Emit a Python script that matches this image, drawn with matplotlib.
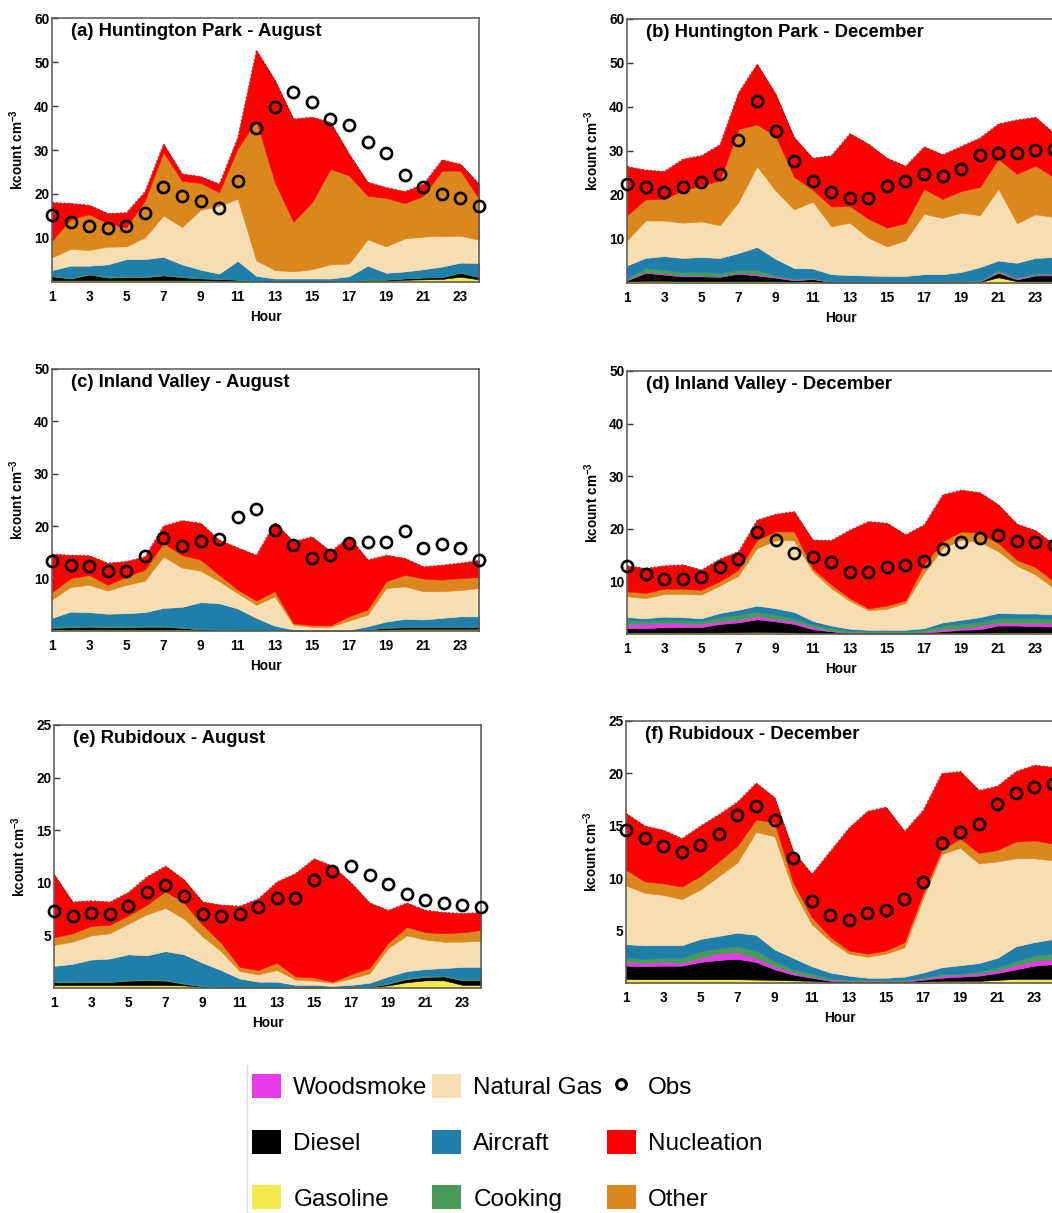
import numpy as np
import matplotlib
matplotlib.use('Agg')
import matplotlib.pyplot as plt
from matplotlib.patches import Patch
from matplotlib.lines import Line2D

plt.rcParams['font.family'] = ['Liberation Sans', 'DejaVu Sans']
plt.rcParams['mathtext.fontset'] = 'custom'
plt.rcParams['mathtext.bf'] = 'Liberation Sans:bold'
plt.rcParams['mathtext.rm'] = 'Liberation Sans'

hours = list(range(1, 25))

# upper edge of each stacked band (kcount cm-3)
# (a) Huntington Park - August
a_gas = [0.4, 0.4, 0.4, 0.4, 0.4, 0.4, 0.4, 0.4, 0.4, 0.3, 0.3, 0.2, 0.1, 0.1, 0.1, 0.1, 0.2, 0.3, 0.3, 0.5, 0.6, 0.7, 1.2, 0.6]
a_diesel = [1.3, 0.8, 1.7, 1.0, 1.1, 1.1, 1.5, 1.1, 0.8, 0.7, 0.5, 0.2, 0.15, 0.15, 0.15, 0.15, 0.2, 0.5, 0.5, 0.8, 1.0, 1.1, 2.1, 1.1]
a_wood = a_diesel
a_cook = [1.5, 1.0, 1.9, 1.3, 1.4, 1.4, 1.7, 1.3, 0.9, 0.8, 0.6, 0.3, 0.2, 0.2, 0.2, 0.2, 0.3, 0.6, 0.6, 0.9, 1.1, 1.2, 2.3, 1.2]
a_air = [2.7, 3.7, 3.7, 4.0, 5.2, 5.2, 5.7, 4.0, 2.8, 1.9, 4.8, 1.4, 0.8, 0.8, 0.8, 0.8, 1.3, 3.7, 2.1, 2.4, 2.9, 3.5, 4.4, 4.3]
a_ng = [5.6, 7.5, 7.3, 8.0, 8.1, 10.1, 15.1, 12.5, 16.4, 17.3, 18.9, 4.9, 2.7, 2.4, 2.9, 4.0, 4.2, 9.7, 8.1, 9.9, 10.3, 10.5, 10.5, 9.6]
a_other = [9.4, 14.3, 15.4, 13.3, 12.4, 18.5, 29.5, 23.0, 22.5, 20.4, 30.3, 36.7, 22.7, 13.7, 18.1, 25.7, 24.2, 19.6, 19.1, 17.9, 19.6, 25.3, 25.3, 18.9]
a_nuc = [18.1, 17.9, 17.5, 15.6, 15.8, 20.6, 31.4, 24.6, 24.0, 22.3, 32.9, 52.7, 45.9, 37.1, 37.5, 36.3, 29.1, 22.7, 21.5, 20.6, 22.3, 27.8, 26.8, 22.3]
a_obs = [15.2, 13.7, 12.8, 12.2, 12.8, 15.7, 21.6, 19.5, 18.3, 16.9, 22.9, 35.0, 39.8, 43.2, 40.8, 37.1, 35.6, 31.8, 29.3, 24.3, 21.6, 20.0, 19.2, 17.3]

# (b) Huntington Park - December
b_gas = [0.4, 0.5, 0.5, 0.4, 0.4, 0.4, 0.4, 0.4, 0.4, 0.3, 0.4, 0.1, 0.1, 0.1, 0.1, 0.1, 0.1, 0.1, 0.1, 0.2, 1.3, 0.4, 0.4, 0.4]
b_diesel = [0.6, 2.3, 1.9, 1.5, 1.5, 1.4, 2.1, 1.7, 1.2, 0.6, 0.9, 0.2, 0.2, 0.2, 0.2, 0.2, 0.2, 0.2, 0.2, 0.3, 2.3, 0.8, 1.7, 1.7]
b_wood = [0.8, 2.5, 2.1, 1.7, 1.7, 1.5, 2.3, 2.0, 1.4, 0.8, 1.0, 0.3, 0.3, 0.3, 0.3, 0.3, 0.3, 0.3, 0.3, 0.4, 2.5, 1.0, 1.9, 1.9]
b_cook = [1.1, 3.4, 3.0, 2.5, 2.5, 2.3, 3.0, 3.0, 1.7, 1.0, 1.1, 0.4, 0.4, 0.4, 0.4, 0.4, 0.4, 0.4, 0.5, 0.6, 3.0, 1.2, 2.2, 2.2]
b_air = [4.0, 5.7, 6.1, 5.7, 5.9, 5.7, 6.8, 8.2, 5.5, 3.4, 3.3, 2.0, 1.8, 1.7, 1.6, 1.6, 2.0, 2.0, 2.5, 3.6, 5.1, 4.6, 5.7, 5.9]
b_ng = [9.7, 14.2, 14.2, 13.7, 14.0, 13.1, 18.4, 26.5, 21.0, 16.7, 18.5, 12.9, 13.7, 10.3, 8.3, 9.7, 15.7, 14.8, 16.0, 15.4, 21.4, 13.6, 15.6, 15.0]
b_other = [15.4, 19.0, 19.1, 21.0, 22.2, 23.3, 35.0, 36.0, 33.5, 24.1, 21.2, 17.4, 17.5, 14.6, 12.6, 13.6, 21.4, 19.1, 20.9, 21.8, 28.2, 24.8, 26.7, 24.0]
b_nuc = [26.5, 25.7, 25.4, 28.2, 29.0, 31.5, 43.3, 49.8, 43.0, 33.1, 28.4, 29.0, 34.0, 31.6, 28.4, 26.6, 31.0, 29.2, 31.1, 33.0, 36.2, 37.1, 37.7, 34.0]
b_obs = [22.5, 21.9, 20.7, 21.8, 22.9, 24.8, 32.4, 41.3, 34.5, 27.8, 23.1, 20.6, 19.4, 19.4, 22.1, 23.1, 24.7, 24.4, 25.9, 29.2, 29.5, 29.6, 30.3, 30.5]

# (c) Inland Valley - August
c_gas = [0.3, 0.3, 0.3, 0.3, 0.3, 0.3, 0.3, 0.3, 0.2, 0.2, 0.2, 0.2, 0.2, 0.1, 0.1, 0.1, 0.1, 0.2, 0.3, 0.4, 0.4, 0.4, 0.4, 0.4]
c_diesel = [0.6, 0.7, 0.8, 0.7, 0.7, 0.8, 0.8, 0.6, 0.3, 0.2, 0.2, 0.2, 0.2, 0.1, 0.1, 0.1, 0.1, 0.3, 0.6, 0.7, 0.7, 0.7, 0.7, 0.7]
c_wood = c_diesel
c_cook = [0.8, 0.9, 1.0, 0.9, 0.9, 1.0, 1.0, 0.7, 0.4, 0.3, 0.3, 0.2, 0.2, 0.15, 0.15, 0.15, 0.15, 0.35, 0.7, 0.8, 0.8, 0.8, 0.8, 0.8]
c_air = [2.5, 3.7, 3.6, 3.3, 3.4, 3.6, 4.4, 4.6, 5.5, 5.3, 4.3, 2.5, 1.0, 0.3, 0.2, 0.2, 0.2, 0.9, 1.8, 2.3, 2.2, 2.5, 2.8, 2.8]
c_ng = [6.0, 8.4, 8.8, 7.7, 8.8, 9.6, 14.2, 12.1, 11.5, 9.5, 7.2, 5.0, 6.6, 1.2, 0.8, 0.8, 2.0, 3.1, 8.2, 8.5, 7.6, 7.6, 7.8, 8.2]
c_other = [7.4, 10.1, 10.7, 8.8, 10.4, 11.7, 16.8, 14.5, 13.6, 10.7, 7.9, 5.8, 7.6, 1.5, 1.1, 1.1, 2.8, 4.1, 9.5, 10.7, 10.0, 9.8, 10.1, 10.3]
c_nuc = [14.7, 14.5, 14.4, 13.0, 13.3, 14.2, 20.1, 21.1, 20.6, 17.4, 15.9, 14.5, 20.7, 17.1, 18.0, 15.2, 18.0, 13.6, 14.5, 13.9, 12.3, 12.6, 13.0, 13.5]
c_obs = [13.3, 12.6, 12.5, 11.4, 11.5, 14.4, 17.7, 16.3, 17.1, 17.6, 21.7, 23.3, 19.3, 16.5, 14.0, 14.5, 16.8, 17.0, 17.0, 19.1, 15.8, 16.6, 15.8, 13.6]

# (d) Inland Valley - December
d_gas = [0.3, 0.3, 0.3, 0.3, 0.3, 0.3, 0.35, 0.4, 0.35, 0.3, 0.2, 0.15, 0.1, 0.1, 0.1, 0.1, 0.1, 0.15, 0.2, 0.25, 0.3, 0.3, 0.3, 0.3]
d_diesel = [1.1, 1.1, 1.3, 1.3, 1.3, 1.9, 2.2, 2.8, 2.4, 1.9, 0.9, 0.5, 0.2, 0.2, 0.2, 0.2, 0.3, 0.5, 0.8, 0.9, 1.6, 1.6, 1.5, 1.4]
d_wood = [1.9, 1.9, 2.1, 2.0, 1.9, 2.4, 2.7, 3.4, 2.8, 2.4, 1.3, 0.6, 0.3, 0.3, 0.3, 0.3, 0.4, 0.9, 1.1, 1.5, 2.1, 2.1, 2.1, 2.0]
d_cook = [2.6, 2.5, 2.6, 2.6, 2.4, 3.2, 3.7, 4.2, 3.7, 3.0, 1.8, 1.1, 0.6, 0.5, 0.5, 0.5, 0.8, 1.6, 1.9, 2.3, 3.0, 3.0, 3.0, 2.9]
d_air = [3.2, 3.0, 3.3, 3.2, 3.0, 4.0, 4.6, 5.4, 4.9, 4.2, 2.5, 1.6, 1.0, 0.8, 0.8, 0.8, 1.1, 2.2, 2.7, 3.2, 4.0, 3.9, 3.9, 3.7]
d_ng = [7.2, 6.8, 7.6, 7.6, 7.5, 9.2, 11.1, 16.3, 17.8, 17.8, 11.9, 8.7, 6.3, 4.5, 4.8, 5.9, 11.6, 16.3, 17.9, 17.5, 15.7, 13.0, 11.3, 8.7]
d_other = [8.1, 7.8, 8.6, 8.6, 8.4, 10.0, 12.2, 17.9, 19.5, 19.5, 12.5, 9.4, 6.8, 4.9, 5.4, 6.4, 13.2, 17.6, 19.5, 19.2, 17.3, 14.1, 12.7, 10.0]
d_nuc = [13.0, 12.5, 13.0, 13.2, 12.2, 14.3, 15.7, 21.7, 22.8, 23.3, 17.9, 17.8, 19.8, 21.4, 21.1, 18.9, 20.8, 26.5, 27.4, 26.9, 24.6, 20.9, 19.7, 17.0]
d_obs = [13.0, 11.5, 10.4, 10.4, 10.9, 12.8, 14.2, 19.4, 17.8, 15.4, 14.7, 13.7, 11.8, 11.8, 12.7, 13.1, 13.9, 16.1, 17.5, 18.2, 18.8, 17.6, 17.5, 17.0]

# (e) Rubidoux - August
e_gas = [0.28, 0.28, 0.28, 0.28, 0.28, 0.28, 0.28, 0.25, 0.1, 0.05, 0.05, 0.05, 0.05, 0.05, 0.05, 0.05, 0.05, 0.1, 0.25, 0.55, 0.73, 0.73, 0.3, 0.3]
e_diesel = [0.54, 0.54, 0.57, 0.57, 0.7, 0.73, 0.7, 0.4, 0.15, 0.08, 0.08, 0.08, 0.08, 0.08, 0.08, 0.08, 0.08, 0.1, 0.4, 0.85, 1.05, 1.1, 0.73, 0.73]
e_wood = e_diesel
e_cook = [0.64, 0.64, 0.67, 0.67, 0.8, 0.83, 0.8, 0.5, 0.2, 0.1, 0.1, 0.1, 0.1, 0.1, 0.1, 0.1, 0.1, 0.15, 0.5, 0.95, 1.15, 1.2, 0.83, 0.83]
e_air = [2.1, 2.3, 2.7, 2.8, 3.2, 3.1, 3.5, 3.2, 2.4, 1.7, 0.9, 0.6, 0.6, 0.3, 0.3, 0.2, 0.3, 0.5, 1.1, 1.6, 1.8, 1.9, 2.0, 2.0]
e_ng = [4.1, 4.4, 5.0, 5.2, 6.1, 7.0, 7.6, 6.6, 4.9, 3.5, 1.6, 1.3, 1.7, 0.8, 0.7, 0.5, 0.9, 1.4, 3.8, 5.0, 4.6, 4.4, 4.4, 4.5]
e_other = [4.8, 5.2, 5.9, 6.0, 6.9, 7.9, 9.2, 8.1, 6.0, 4.3, 2.0, 1.7, 2.4, 1.1, 1.0, 0.6, 1.3, 1.9, 4.3, 5.8, 5.3, 5.2, 5.3, 5.5]
e_nuc = [10.8, 8.2, 8.3, 8.2, 9.1, 10.6, 11.6, 10.3, 8.2, 7.9, 7.8, 8.5, 10.1, 10.9, 12.3, 11.6, 10.0, 8.1, 7.4, 8.1, 7.4, 7.2, 7.1, 7.2]
e_obs = [7.3, 6.8, 7.1, 7.0, 7.8, 9.1, 9.8, 8.7, 7.0, 6.8, 7.0, 7.7, 8.6, 8.6, 10.3, 11.1, 11.6, 10.7, 9.9, 8.9, 8.4, 8.1, 7.9, 7.7]

# (f) Rubidoux - December
f_gas = [0.38, 0.36, 0.36, 0.36, 0.36, 0.36, 0.36, 0.33, 0.3, 0.25, 0.2, 0.1, 0.1, 0.1, 0.1, 0.1, 0.15, 0.2, 0.2, 0.2, 0.3, 0.4, 0.4, 0.4]
f_diesel = [1.65, 1.6, 1.65, 1.65, 2.0, 2.2, 2.3, 2.0, 1.3, 0.8, 0.5, 0.2, 0.12, 0.12, 0.12, 0.12, 0.3, 0.5, 0.6, 0.7, 0.95, 1.3, 1.65, 1.8]
f_wood = [2.0, 1.9, 2.0, 1.9, 2.4, 2.8, 2.9, 2.4, 1.6, 1.0, 0.6, 0.3, 0.2, 0.2, 0.2, 0.2, 0.4, 0.7, 0.8, 0.9, 1.2, 1.7, 2.1, 2.3]
f_cook = [2.4, 2.3, 2.4, 2.4, 3.0, 3.3, 3.5, 3.1, 2.1, 1.3, 0.9, 0.45, 0.3, 0.3, 0.3, 0.3, 0.5, 0.9, 0.9, 1.1, 1.5, 2.1, 2.6, 2.8]
f_air = [3.7, 3.6, 3.6, 3.6, 4.2, 4.5, 4.8, 4.6, 3.2, 2.4, 1.6, 1.0, 0.7, 0.5, 0.5, 0.6, 1.0, 1.5, 1.7, 1.9, 2.4, 3.5, 3.9, 4.2]
f_ng = [9.3, 8.6, 8.4, 8.0, 8.9, 10.2, 11.5, 14.4, 14.0, 8.9, 5.6, 4.0, 2.8, 2.5, 2.8, 3.4, 8.1, 12.3, 12.9, 11.4, 11.6, 11.9, 11.9, 11.7]
f_other = [10.8, 9.7, 9.5, 9.2, 10.2, 11.6, 13.1, 15.6, 15.3, 9.6, 6.3, 4.4, 3.1, 2.8, 3.1, 3.9, 8.6, 12.7, 13.8, 12.4, 12.7, 13.5, 13.6, 13.3]
f_nuc = [16.2, 15.0, 14.6, 13.8, 15.0, 16.1, 17.3, 19.1, 17.7, 12.6, 10.4, 12.6, 14.8, 16.4, 16.8, 14.5, 16.5, 20.0, 20.2, 18.4, 18.8, 20.2, 20.8, 20.6]
f_obs = [14.6, 13.8, 13.1, 12.5, 13.2, 14.2, 16.0, 16.9, 15.6, 11.9, 7.8, 6.5, 6.0, 6.7, 7.0, 8.0, 9.6, 13.4, 14.4, 15.2, 17.1, 18.1, 18.7, 19.0]

sources = ['Gasoline', 'Diesel', 'Woodsmoke', 'Cooking', 'Aircraft', 'Natural Gas', 'Other', 'Nucleation']
colors = {'Gasoline': '#f2e94e', 'Diesel': '#000000', 'Woodsmoke': '#e83ae8', 'Cooking': '#4a9a5a',
          'Aircraft': '#1f7faa', 'Natural Gas': '#f6deb2', 'Other': '#da881e', 'Nucleation': '#ff0000'}

W, H = 1052, 1213
fig = plt.figure(figsize=(W / 100, H / 100), dpi=100)


def px_rect(l, t, r, b):
    return [l / W, 1 - b / H, (r - l) / W, (b - t) / H]


panels = [
    ('(a) Huntington Park - August', (52, 18, 479, 282), 60, [a_gas, a_diesel, a_wood, a_cook, a_air, a_ng, a_other, a_nuc], a_obs),
    ('(b) Huntington Park - December', (627, 19, 1054, 283), 60, [b_gas, b_diesel, b_wood, b_cook, b_air, b_ng, b_other, b_nuc], b_obs),
    ('(c) Inland Valley - August', (52, 369, 479, 631), 50, [c_gas, c_diesel, c_wood, c_cook, c_air, c_ng, c_other, c_nuc], c_obs),
    ('(d) Inland Valley - December', (627, 371, 1054, 634), 50, [d_gas, d_diesel, d_wood, d_cook, d_air, d_ng, d_other, d_nuc], d_obs),
    ('(e) Rubidoux - August', (54, 725, 481, 988), 25, [e_gas, e_diesel, e_wood, e_cook, e_air, e_ng, e_other, e_nuc], e_obs),
    ('(f) Rubidoux - December', (626, 721, 1053, 983), 25, [f_gas, f_diesel, f_wood, f_cook, f_air, f_ng, f_other, f_nuc], f_obs),
]

for title, rect, ymax, levels, obs in panels:
    ax = fig.add_axes(px_rect(*rect))
    lower = np.zeros(len(hours))
    for name, top in zip(sources, levels):
        top = np.asarray(top, dtype=float)
        if np.allclose(top, lower):
            continue
        ax.fill_between(hours, lower, top, color=colors[name], lw=0.4, zorder=2)
        lower = top
    ax.plot(hours, levels[-1], color='k', lw=0.7, ls=(0, (2, 2)), alpha=0.5, zorder=3)
    ax.plot(hours, obs, 'o', ms=8, mfc='none', mec='k', mew=1.9, zorder=5, clip_on=False)

    ax.set_xlim(1, 24)
    ax.set_ylim(0, ymax)
    ax.set_xticks(range(1, 24, 2))
    step = 5 if ymax == 25 else 10
    ax.set_yticks(range(step, ymax + 1, step))
    ax.tick_params(direction='in', length=4, width=1, color='#333333', labelsize=9.8, pad=2)
    ax.tick_params(axis='x', pad=6)
    for lab in ax.get_xticklabels() + ax.get_yticklabels():
        lab.set_fontweight('bold')
    for sp in ax.spines.values():
        sp.set_color('#555555')
        sp.set_linewidth(1.1)
    ax.set_xlabel('Hour', fontsize=9.8, fontweight='bold', labelpad=4)
    ax.set_ylabel('kcount cm$^{\\mathbf{-3}}$', fontsize=9.8, fontweight='bold')
    ax.yaxis.set_label_coords(-0.062, 0.5)
    ax.text(0.044, 0.93, title, transform=ax.transAxes, fontsize=13.3, fontweight='bold', va='baseline', zorder=6)

# legend
order = ['Woodsmoke', 'Diesel', 'Gasoline', 'Natural Gas', 'Aircraft', 'Cooking']
handles = [Patch(facecolor=colors[n], edgecolor='none') for n in order]
labels = list(order)
handles.append(Line2D([], [], marker='o', ls='none', ms=7, mfc='white', mec='k', mew=2.2))
labels.append('Obs')
for n in ['Nucleation', 'Other']:
    handles.append(Patch(facecolor=colors[n], edgecolor='none'))
    labels.append(n)

fig.legend(handles, labels, ncol=3, loc='upper left', bbox_to_anchor=(252 / W, 1 - 1074 / H),
           frameon=False, fontsize=17.5, handlelength=1.2, handleheight=1.15, handletextpad=0.5,
           columnspacing=0.18, labelspacing=1.25, borderpad=0.0, borderaxespad=0)
fig.add_artist(Line2D([247 / W, 247 / W], [0, 1 - 1065 / H], color='#dddddd', lw=1))

fig.savefig('out.png', dpi=100)
